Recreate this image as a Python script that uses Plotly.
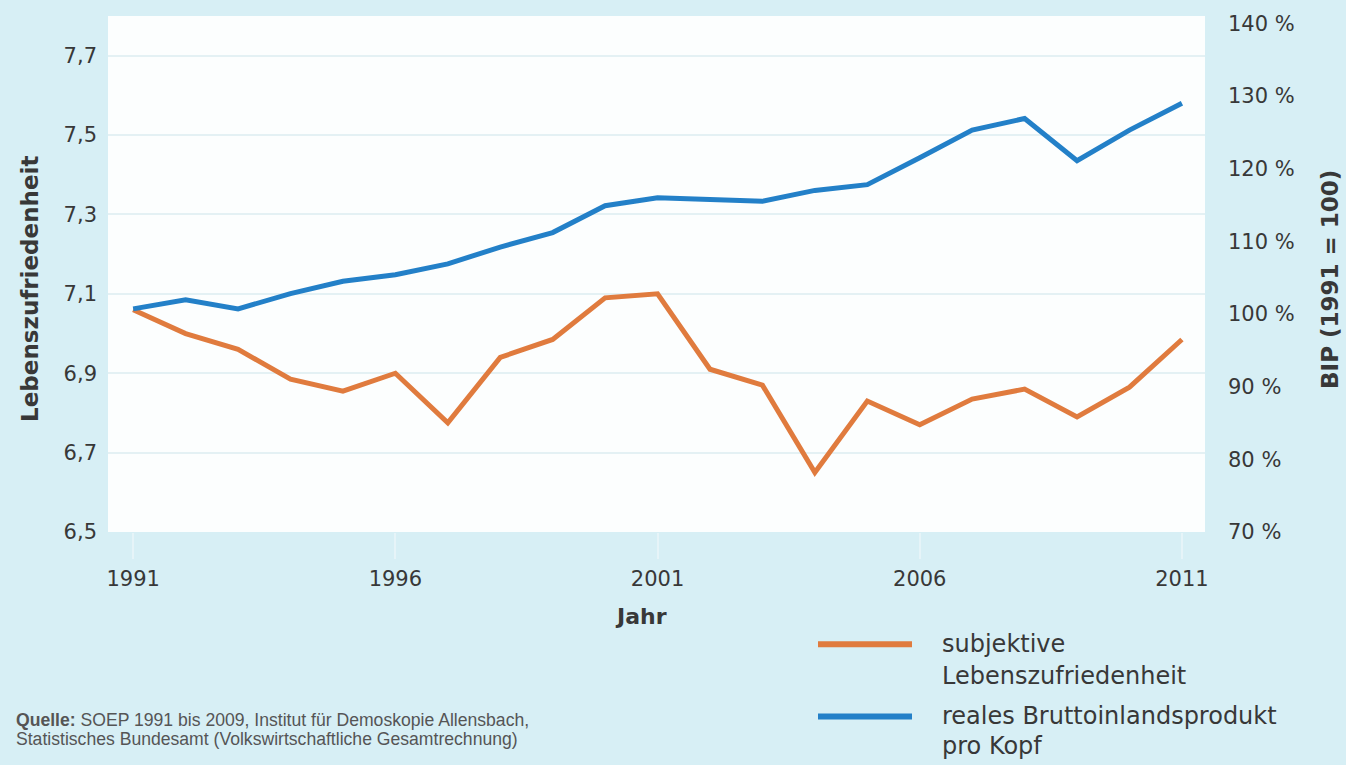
import plotly.graph_objects as go

years = list(range(1991, 2012))
zufriedenheit = [7.06, 7.00, 6.96, 6.885, 6.855, 6.90, 6.775, 6.94, 6.985, 7.09, 7.10,
                 6.91, 6.87, 6.65, 6.83, 6.77, 6.835, 6.86, 6.79, 6.865, 6.985]
bip = [100.7, 101.95, 100.7, 102.8, 104.5, 105.4, 106.9, 109.2, 111.2, 114.9, 116.0,
       115.7, 115.5, 117.0, 117.8, 121.5, 125.3, 126.9, 121.1, 125.3, 129.0]

x_ticks = [1991, 1996, 2001, 2006, 2011]
left_ticks = [6.5, 6.7, 6.9, 7.1, 7.3, 7.5, 7.7]
left_labels = ["6,5", "6,7", "6,9", "7,1", "7,3", "7,5", "7,7"]
right_ticks = [70, 80, 90, 100, 110, 120, 130, 140]
right_labels = [f"{v} %" for v in right_ticks]

ORANGE = "#e07b3e"
BLUE = "#2380c8"
TXT = "#383838"
FONT = "DejaVu Sans"

fig = go.Figure()
fig.add_trace(go.Scatter(x=years, y=zufriedenheit, mode="lines",
                         line=dict(color=ORANGE, width=5),
                         name="subjektive Lebenszufriedenheit", yaxis="y"))
fig.add_trace(go.Scatter(x=years, y=bip, mode="lines",
                         line=dict(color=BLUE, width=5),
                         name="reales Bruttoinlandsprodukt pro Kopf", yaxis="y2"))

L, R, T, B = 108, 141, 12, 233
W, H = 1346, 765
pw, ph = W - L - R, H - T - B

def px(x):
    return (x - L) / pw

def py(y):
    return (H - B - y) / ph

fig.update_layout(
    width=W, height=H,
    margin=dict(l=L, r=R, t=T, b=B),
    paper_bgcolor="#d7eff5",
    plot_bgcolor="#fcfefe",
    showlegend=False,
    font=dict(family=FONT, color=TXT),
    xaxis=dict(range=[1990.52, 2011.44], tickvals=x_ticks,
               ticktext=[str(v) for v in x_ticks],
               showgrid=False, zeroline=False, showline=False,
               ticks="outside", ticklen=26, tickwidth=2, tickcolor="#e6f4f8",
               ticklabelstandoff=2,
               tickfont=dict(size=21, color=TXT)),
    yaxis=dict(range=[6.5, 7.8], tickvals=left_ticks, ticktext=left_labels,
               showgrid=True, gridcolor="#e4f1f4", gridwidth=2,
               zeroline=False, showline=False, ticklabelstandoff=10,
               tickfont=dict(size=21, color=TXT)),
    yaxis2=dict(range=[70, 141], tickvals=right_ticks, ticktext=right_labels,
                overlaying="y", side="right", showgrid=False,
                zeroline=False, showline=False, ticklabelstandoff=22,
                tickfont=dict(size=21, color=TXT)),
)

ann = []
ann.append(dict(text="<b>Jahr</b>", x=px(641), y=py(617), xref="paper", yref="paper",
                showarrow=False, xanchor="center", yanchor="middle",
                font=dict(size=22, color=TXT, family=FONT)))
ann.append(dict(text="<b>Lebenszufriedenheit</b>", x=px(30), y=py(287), xref="paper", yref="paper",
                showarrow=False, textangle=-90, xanchor="center", yanchor="middle",
                font=dict(size=23, color=TXT, family=FONT)))
ann.append(dict(text="<b>BIP (1991 = 100)</b>", x=px(1330), y=py(278), xref="paper", yref="paper",
                showarrow=False, textangle=-90, xanchor="center", yanchor="middle",
                font=dict(size=23, color=TXT, family=FONT)))

legend_items = [
    (ORANGE, 645, ["subjektive", "Lebenszufriedenheit"], [645, 677]),
    (BLUE, 718, ["reales Bruttoinlandsprodukt", "pro Kopf"], [717, 748]),
]
shapes = []
for color, ly, lines, ys in legend_items:
    shapes.append(dict(type="line", xref="paper", yref="paper",
                       x0=px(818), x1=px(912), y0=py(ly), y1=py(ly),
                       line=dict(color=color, width=6)))
    for t, yy in zip(lines, ys):
        ann.append(dict(text=t, x=px(940), y=py(yy), xref="paper", yref="paper",
                        showarrow=False, xanchor="left", yanchor="middle",
                        font=dict(size=24, color=TXT, family=FONT)))

ann.append(dict(text="<b>Quelle:</b> SOEP 1991 bis 2009, Institut für Demoskopie Allensbach,",
                x=px(14), y=py(721), xref="paper", yref="paper", showarrow=False,
                xanchor="left", yanchor="middle",
                font=dict(size=17.6, color="#555555", family="Liberation Sans")))
ann.append(dict(text="Statistisches Bundesamt (Volkswirtschaftliche Gesamtrechnung)",
                x=px(14), y=py(741), xref="paper", yref="paper", showarrow=False,
                xanchor="left", yanchor="middle",
                font=dict(size=17.6, color="#555555", family="Liberation Sans")))

fig.update_layout(annotations=ann, shapes=shapes)
fig.write_html("out.html",
               config={"displayModeBar": False},
               post_script="document.body.style.margin='0';document.body.style.overflow='hidden';")
